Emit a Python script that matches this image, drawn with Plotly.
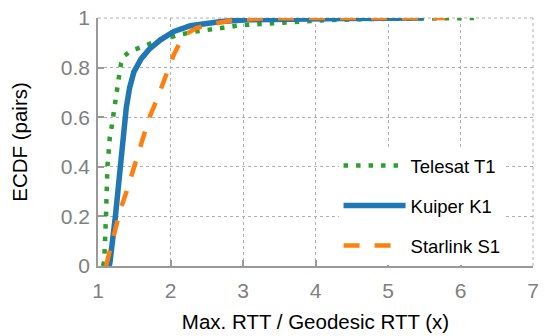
import plotly.graph_objects as go

# Telesat T1 ECDF (x = Max RTT / Geodesic RTT, y = ECDF)
telesat_x = [1.07, 1.086, 1.11, 1.13, 1.163, 1.177, 1.22, 1.254, 1.30, 1.32, 1.367, 1.435, 1.53, 1.63,
             1.74, 1.857, 1.98, 2.12, 2.36, 2.66, 2.955, 3.25, 3.57, 3.88, 4.2, 4.8, 5.48, 6.29]
telesat_y = [0.0, 0.02, 0.2, 0.4, 0.52, 0.539, 0.625, 0.706, 0.785, 0.819, 0.848, 0.864, 0.874, 0.887,
             0.90, 0.913, 0.92, 0.933, 0.946, 0.959, 0.970, 0.976, 0.982, 0.988, 0.992, 0.996, 0.999, 1.0]

# Kuiper K1 ECDF
kuiper_x = [1.15, 1.163, 1.24, 1.30, 1.344, 1.39, 1.435, 1.494, 1.594, 1.707, 1.867, 2.048, 2.275,
            2.5, 2.70, 3.07, 3.6, 4.4, 5.48]
kuiper_y = [0.0, 0.01, 0.2, 0.4, 0.54, 0.638, 0.717, 0.782, 0.835, 0.874, 0.913, 0.946, 0.969,
            0.979, 0.986, 0.993, 0.996, 0.998, 1.0]

# Starlink S1 ECDF
starlink_x = [1.11, 1.118, 1.21, 1.30, 1.40, 1.50, 1.60, 1.707, 1.82, 1.935, 2.048, 2.18, 2.35,
              2.5, 2.84, 3.25, 4.0, 5.79]
starlink_y = [0.0, 0.01, 0.12, 0.218, 0.306, 0.40, 0.493, 0.598, 0.677, 0.762, 0.854, 0.929, 0.958,
              0.972, 0.99, 0.998, 1.0, 1.0]

x_ticks = [1, 2, 3, 4, 5, 6, 7]
y_ticks = [0, 0.2, 0.4, 0.6, 0.8, 1]
y_tick_text = ["0", "0.2", "0.4", "0.6", "0.8", "1"]

FONT = "Liberation Sans, Arial, Helvetica, sans-serif"

fig = go.Figure()
fig.add_trace(go.Scatter(x=telesat_x, y=telesat_y, mode="lines", name="Telesat T1",
                         legendgroup="t", line=dict(color="#2ca02c", width=4.5, dash="4.5px,8px")))
fig.add_trace(go.Scatter(x=kuiper_x, y=kuiper_y, mode="lines", name="Kuiper K1",
                         legendgroup="k", line=dict(color="#1f77b4", width=5.5)))
fig.add_trace(go.Scatter(x=starlink_x, y=starlink_y, mode="lines", name="Starlink S1",
                         legendgroup="s", line=dict(color="#ff7f0e", width=4.5, dash="16px,15px")))

axis_common = dict(
    showgrid=True, gridcolor="#b0b0b0", griddash="dot", gridwidth=1,
    showline=True, linecolor="#999999", linewidth=1.5,
    ticks="inside", ticklen=6, tickcolor="#999999", tickwidth=1.5,
    tickfont=dict(family=FONT, size=21, color="#808080"),
    zeroline=False,
)

fig.update_layout(
    width=545, height=336,
    margin=dict(l=98, r=6, t=13, b=69),
    plot_bgcolor="white", paper_bgcolor="white",
    font=dict(family=FONT, color="black"),
    xaxis=dict(range=[1, 7], tickvals=x_ticks, ticktext=[str(v) for v in x_ticks],
               ticklabelstandoff=5,
               title=dict(text="Max. RTT / Geodesic RTT (x)", font=dict(family=FONT, size=20.5, color="black"),
                          standoff=14),
               **axis_common),
    yaxis=dict(range=[0, 1], tickvals=y_ticks, ticktext=y_tick_text,
               ticklabelstandoff=2,
               title=dict(text="ECDF (pairs)", font=dict(family=FONT, size=20.5, color="black"), standoff=28),
               **axis_common),
    legend=dict(x=0.553, y=0.48, xanchor="left", yanchor="top", bgcolor="white",
                font=dict(family=FONT, size=18.5, color="black"), itemwidth=62,
                tracegroupgap=13, traceorder="grouped"),
    showlegend=True,
)
# dotted frame on top and right (grid lines at the range ends)
fig.add_shape(type="line", xref="paper", yref="paper", x0=0, x1=1, y0=1, y1=1,
              line=dict(color="#b0b0b0", width=1, dash="dot"), layer="below")
fig.add_shape(type="line", xref="paper", yref="paper", x0=1, x1=1, y0=0, y1=1,
              line=dict(color="#b0b0b0", width=1, dash="dot"), layer="below")

fig.write_html("out.html")
